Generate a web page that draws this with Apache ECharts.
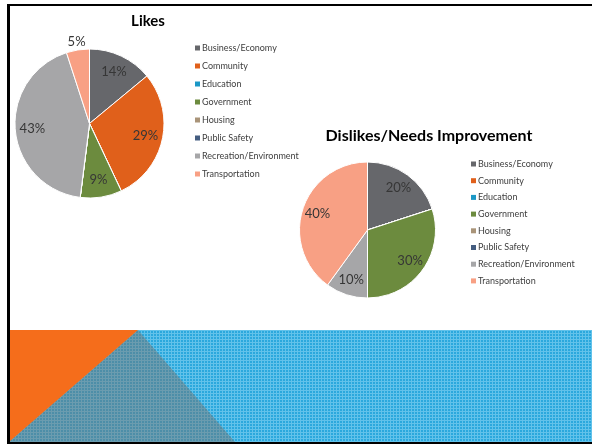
<!DOCTYPE html>
<html>
<head>
<meta charset="utf-8">
<script src="https://cdn.jsdelivr.net/npm/echarts@6/dist/echarts.min.js"></script>
<style>
  html, body { margin: 0; padding: 0; background: #fff; }
  #chart { width: 592px; height: 445px; }
</style>
</head>
<body>
<div id="chart"></div>
<script>
// Survey topic categories shared by both pies
const categories = [
  'Business/Economy', 'Community', 'Education', 'Government',
  'Housing', 'Public Safety', 'Recreation/Environment', 'Transportation'
];
const categoryColors = [
  '#66676b', '#e0601b', '#1b98c6', '#6c8b3e',
  '#a99479', '#445d80', '#a6a6a8', '#f8a084'
];
// Share of responses, percent
const likesValues    = [14, 29, 0, 9, 0, 0, 43, 5];
const dislikesValues = [20, 0, 0, 30, 0, 0, 10, 40];

const titleLikes = 'Likes';
const titleDislikes = 'Dislikes/Needs Improvement';

const FONT = 'Lato, "DejaVu Sans", sans-serif';
const TEXT = '#363636';

function toData(values) {
  return categories.map((name, i) => ({
    name, value: values[i], itemStyle: { color: categoryColors[i] }
  }));
}

// Small tiled grid used to texture the footer band
function gridPattern(base, line) {
  const c = document.createElement('canvas');
  c.width = 3; c.height = 3;
  const g = c.getContext('2d');
  g.fillStyle = base; g.fillRect(0, 0, 3, 3);
  g.fillStyle = line; g.fillRect(0, 0, 3, 1); g.fillRect(0, 0, 1, 3);
  return c;
}

function pieSeries(values, center, r, outsideNames) {
  const data = toData(values);
  const total = values.reduce((a, b) => a + b, 0);
  // angle (clockwise from 12 o'clock) of each slice's middle
  const midAngles = [];
  let acc = 0;
  values.forEach(v => { midAngles.push((acc + v / 2) / total * 2 * Math.PI); acc += v; });

  return [
    {
      type: 'pie', center, radius: [0, r], startAngle: 90,
      data, silent: true, animation: false,
      itemStyle: { borderColor: '#fff', borderWidth: 1 },
      label: { show: false }, labelLine: { show: false }, z: 2
    },
    {
      // transparent ring that carries the percentage labels
      type: 'pie', center, radius: [r * 0.46, r], startAngle: 90,
      data: data.map(d => ({ name: d.name, value: d.value, itemStyle: { color: 'rgba(0,0,0,0)' } })),
      silent: true, animation: false, z: 3,
      label: {
        show: true, position: 'inside', color: TEXT, fontFamily: FONT, fontSize: 13,
        formatter: p => (p.value ? p.value + '%' : '')
      },
      labelLine: { show: false },
      // labels of thin slices sit just beyond the rim
      labelLayout: p => {
        if (!outsideNames.includes(categories[p.dataIndex])) return {};
        const a = midAngles[p.dataIndex], rr = r + 8;
        return {
          x: center[0] + rr * Math.sin(a), y: center[1] - rr * Math.cos(a),
          align: 'center', verticalAlign: 'middle'
        };
      }
    }
  ];
}

function legend(left, top, gap) {
  return {
    orient: 'vertical', left, top,
    data: categories.map((name, i) => ({ name, itemStyle: { color: categoryColors[i], borderWidth: 0 } })),
    icon: 'rect', itemWidth: 5, itemHeight: 5, itemGap: gap,
    selectedMode: false,
    itemStyle: { borderWidth: 0 },
    textStyle: { fontFamily: FONT, fontSize: 9, color: '#404040', lineHeight: 10, padding: [0, 0, 0, -3] }
  };
}

const chart = echarts.init(document.getElementById('chart'));
const footerTop = 330, footerBottom = 442, frameLeft = 9;

chart.setOption({
  animation: false,
  backgroundColor: '#fff',
  title: [
    { text: titleLikes, left: 143, top: 9, textAlign: 'center',
      textStyle: { fontFamily: FONT, fontSize: 15, fontWeight: 'bold', color: '#000' } },
    { text: titleDislikes, left: 424, top: 123, textAlign: 'center',
      textStyle: { fontFamily: FONT, fontSize: 16, fontWeight: 'bold', color: '#000' } }
  ],
  legend: [legend(190, 38, 8), legend(466, 154, 6.7)],
  series: [
    ...pieSeries(likesValues, [89.5, 123.5], 74.5, ['Transportation']),
    ...pieSeries(dislikesValues, [367.5, 230], 68, [])
  ],
  graphic: [
    // footer band
    { type: 'rect', z: -10, silent: true,
      shape: { x: frameLeft, y: footerTop, width: 592 - frameLeft, height: footerBottom - footerTop },
      style: { fill: { image: gridPattern('#2ba8dd', '#62c2ea'), repeat: 'repeat' } } },
    { type: 'polygon', z: -9, silent: true,
      shape: { points: [[138, footerTop], [frameLeft, footerBottom], [235, footerBottom]] },
      style: { fill: 'rgba(120,110,105,0.45)' } },
    { type: 'polygon', z: -8, silent: true,
      shape: { points: [[frameLeft, footerTop], [138, footerTop], [frameLeft, footerBottom]] },
      style: { fill: '#f56d1b' } },
    // slide frame
    { type: 'rect', z: -5, silent: true, shape: { x: 7, y: 4, width: 3, height: 440 }, style: { fill: '#000' } },
    { type: 'rect', z: -5, silent: true, shape: { x: 7, y: 4, width: 585, height: 2 }, style: { fill: '#000' } },
    { type: 'rect', z: -5, silent: true, shape: { x: 7, y: 442, width: 585, height: 2 }, style: { fill: '#000' } }
  ]
});
</script>
</body>
</html>
